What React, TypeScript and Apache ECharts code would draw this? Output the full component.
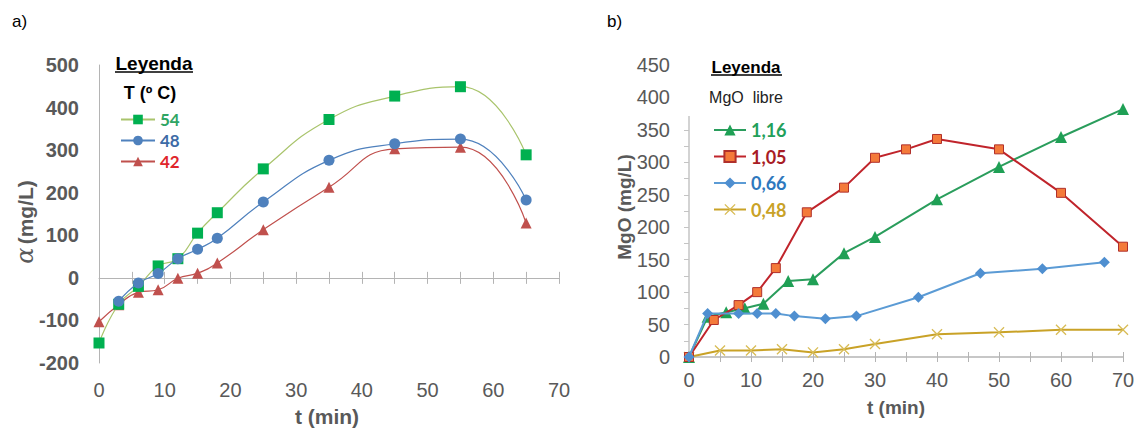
import React, { useEffect, useRef } from "react";
import * as echarts from "echarts";

// ---- Chart a) alpha (mg/L) vs t (min) ----
const tA54 = [0, 3, 6, 9, 12, 15, 18, 25, 35, 45, 55, 65];
const a54 = [-153, -62, -20, 28, 45, 105, 153, 256, 372, 427, 449, 289];
const tA48 = [3, 6, 9, 12, 15, 18, 25, 35, 45, 55, 65];
const a48 = [-55, -12, 10, 45, 67, 93, 178, 276, 315, 326, 183];
const tA42 = [0, 3, 6, 9, 12, 15, 18, 25, 35, 45, 55, 65];
const a42 = [-103, -63, -34, -28, -1, 11, 35, 113, 213, 303, 307, 129];

// ---- Chart b) MgO (mg/L) vs t (min) ----
const tM116 = [0, 3, 6, 9, 12, 16, 20, 25, 30, 40, 50, 60, 70];
const m116 = [0, 62, 69, 75, 82, 117, 120, 160, 185, 243, 293, 339, 382];
const tM105 = [0, 4, 8, 11, 14, 19, 25, 30, 35, 40, 50, 60, 70];
const m105 = [0, 57, 80, 100, 137, 223, 261, 307, 320, 336, 320, 253, 170];
const tM066 = [0, 3, 8, 11, 14, 17, 22, 27, 37, 47, 57, 67];
const m066 = [0, 67, 67, 67, 67, 63, 59, 63, 92, 129, 136, 146];
const tM048 = [0, 5, 10, 15, 20, 25, 30, 40, 50, 60, 70];
const m048 = [0, 10, 10, 12, 7, 12, 20, 35, 38, 42, 42];

const legendA = ["54", "48", "42"];
const legendB = ["1,16", "1,05", "0,66", "0,48"];

const pair = (xs: number[], ys: number[]) => xs.map((x, i) => [x, ys[i]]);

const crossPath =
  "path://M0,1 L1,0 L6,5 L11,0 L12,1 L7,6 L12,11 L11,12 L6,7 L1,12 L0,11 L5,6 Z";

const SANS = "Liberation Sans";
const LABEL = "#595959";
const AX = "#B4B4B4";
const AXR = "#C4C4C4";

// left grid geometry (value range of the y axis used for the zero line offset)
const gridAHeight = 298;
const yMinA = -200;
const yMaxA = 500;

export default function App() {
  const ref = useRef<HTMLDivElement>(null);
  useEffect(() => {
    if (!ref.current) return;
    const chart = echarts.init(ref.current, undefined, { renderer: "svg" });
    const xBase = (grid: number) => ({
      type: "value" as const,
      gridIndex: grid,
      min: 0,
      max: 70,
      interval: 10,
      splitLine: { show: false },
    });
    const zeroOffset = -((0 - yMinA) / (yMaxA - yMinA)) * gridAHeight;
    chart.setOption({
      animation: false,
      backgroundColor: "#fff",
      grid: [
        { left: 99, top: 65, width: 460, height: gridAHeight },
        { left: 689, top: 65, width: 434, height: 292 },
      ],
      xAxis: [
        {
          ...xBase(0),
          position: "bottom",
          axisLine: { show: false, onZero: false },
          axisTick: { show: false },
          axisLabel: { fontFamily: SANS, fontSize: 20, color: LABEL, margin: 17 },
        },
        {
          ...xBase(0),
          position: "bottom",
          axisLine: { show: true, onZero: true, lineStyle: { color: AX, width: 1 } },
          axisTick: { show: true, length: 6, lineStyle: { color: AX, width: 1 } },
          minorTick: { show: true, splitNumber: 2, length: 6, lineStyle: { color: AX, width: 1 } },
          axisLabel: { show: false },
        },
        {
          ...xBase(0),
          position: "bottom",
          offset: zeroOffset,
          axisLine: { show: false, onZero: false },
          axisTick: { show: true, inside: true, length: 6, lineStyle: { color: AX, width: 1 } },
          minorTick: { show: true, splitNumber: 2, length: 6, lineStyle: { color: AX, width: 1 } },
          axisLabel: { show: false },
        },
        {
          ...xBase(1),
          position: "bottom",
          axisLine: { show: true, onZero: false, lineStyle: { color: AX, width: 1.5 } },
          axisTick: { show: true, length: 5, lineStyle: { color: AX, width: 1 } },
          minorTick: { show: true, splitNumber: 2, length: 5, lineStyle: { color: AX, width: 1 } },
          axisLabel: { fontFamily: SANS, fontSize: 20, color: LABEL, margin: 13 },
        },
        {
          ...xBase(1),
          position: "bottom",
          axisLine: { show: false, onZero: false },
          axisTick: { show: true, inside: true, length: 5, lineStyle: { color: AX, width: 1 } },
          minorTick: { show: true, splitNumber: 2, length: 5, lineStyle: { color: AX, width: 1 } },
          axisLabel: { show: false },
        },
      ],
      yAxis: [
        {
          type: "value",
          gridIndex: 0,
          min: yMinA,
          max: yMaxA,
          interval: 100,
          splitLine: { show: false },
          axisLine: { show: true, lineStyle: { color: AX, width: 1 } },
          axisTick: { show: false },
          axisLabel: { fontFamily: SANS, fontSize: 20, fontWeight: "bold", color: LABEL, margin: 20 },
        },
        {
          type: "value",
          gridIndex: 1,
          min: 0,
          max: 450,
          interval: 50,
          splitLine: { show: false },
          axisLine: { show: true, lineStyle: { color: AXR, width: 1.5 } },
          axisTick: { show: true, length: 5, lineStyle: { color: AXR, width: 1 } },
          minorTick: { show: true, splitNumber: 2, length: 5, lineStyle: { color: AXR, width: 1 } },
          axisLabel: { fontFamily: SANS, fontSize: 20, color: LABEL, margin: 19 },
        },
      ],
      legend: [
        {
          orient: "vertical",
          left: 120,
          top: 111,
          padding: 0,
          itemWidth: 34,
          itemHeight: 12,
          itemGap: 4,
          selectedMode: false,
          textStyle: { fontFamily: "Lato", fontWeight: "bold", fontSize: 17, lineHeight: 13 },
          data: [
            { name: legendA[0], textStyle: { color: "#2FA564" } },
            { name: legendA[1], textStyle: { color: "#3D6BA6" } },
            { name: legendA[2], textStyle: { color: "#E0262B" } },
          ],
        },
        {
          orient: "vertical",
          left: 713,
          top: 121,
          padding: 0,
          itemWidth: 32,
          itemHeight: 14,
          itemGap: 8.5,
          selectedMode: false,
          textStyle: { fontFamily: "Lato", fontWeight: "bold", fontSize: 18, lineHeight: 14 },
          data: [
            { name: legendB[0], textStyle: { color: "#22A05A" } },
            { name: legendB[1], textStyle: { color: "#A81C25" } },
            { name: legendB[2], textStyle: { color: "#2E78BE" } },
            { name: legendB[3], textStyle: { color: "#C9A227" } },
          ],
        },
      ],
      series: [
        { name: legendA[0], type: "line", xAxisIndex: 0, yAxisIndex: 0, smooth: 0.5, data: pair(tA54, a54), symbol: "rect", symbolSize: 11, itemStyle: { color: "#00B050" }, lineStyle: { color: "#A9C46C", width: 1.2 }, z: 3 },
        { name: legendA[1], type: "line", xAxisIndex: 0, yAxisIndex: 0, smooth: 0.5, data: pair(tA48, a48), symbol: "circle", symbolSize: 11, itemStyle: { color: "#4F81BD" }, lineStyle: { color: "#4F81BD", width: 1.2 }, z: 4 },
        { name: legendA[2], type: "line", xAxisIndex: 0, yAxisIndex: 0, smooth: 0.5, data: pair(tA42, a42), symbol: "triangle", symbolSize: 11, itemStyle: { color: "#C0504D" }, lineStyle: { color: "#C0504D", width: 1.2 }, z: 2 },
        { name: legendB[0], type: "line", xAxisIndex: 3, yAxisIndex: 1, data: pair(tM116, m116), symbol: "triangle", symbolSize: 12, itemStyle: { color: "#1FA055" }, lineStyle: { color: "#2A9D5C", width: 2 }, z: 3 },
        { name: legendB[1], type: "line", xAxisIndex: 3, yAxisIndex: 1, data: pair(tM105, m105), symbol: "rect", symbolSize: 9, itemStyle: { color: "#F47A3A", borderColor: "#B0302B", borderWidth: 1 }, lineStyle: { color: "#C0242B", width: 2 }, z: 4 },
        { name: legendB[2], type: "line", xAxisIndex: 3, yAxisIndex: 1, data: pair(tM066, m066), symbol: "diamond", symbolSize: 11, itemStyle: { color: "#4F8FD0" }, lineStyle: { color: "#5B9BD5", width: 2 }, z: 5 },
        { name: legendB[3], type: "line", xAxisIndex: 3, yAxisIndex: 1, data: pair(tM048, m048), symbol: crossPath, symbolSize: 11, itemStyle: { color: "#D8BC55" }, lineStyle: { color: "#C9A227", width: 2 }, z: 2 },
      ],
      graphic: [
        { type: "rect", z: 100, shape: { x: 680, y: 58, width: 16, height: 58 }, style: { fill: "#fff" } },
        { type: "text", z: 101, x: 12, y: 21, style: { text: "a)", font: `17px '${SANS}'`, fill: "#000", verticalAlign: "middle" } },
        { type: "text", z: 101, x: 607, y: 21, style: { text: "b)", font: `17px '${SANS}'`, fill: "#000", verticalAlign: "middle" } },
        { type: "text", z: 101, x: 154, y: 63, style: { text: "Leyenda", font: `bold 19px '${SANS}'`, fill: "#000", align: "center", verticalAlign: "middle" } },
        { type: "line", z: 101, shape: { x1: 115, y1: 72, x2: 193, y2: 72 }, style: { stroke: "#000", lineWidth: 1.5 } },
        { type: "text", z: 101, x: 150, y: 93, style: { text: "T (º C)", font: `bold 18px '${SANS}'`, fill: "#000", align: "center", verticalAlign: "middle" } },
        { type: "text", z: 101, x: 746, y: 67, style: { text: "Leyenda", font: `bold 17px '${SANS}'`, fill: "#000", align: "center", verticalAlign: "middle" } },
        { type: "line", z: 101, shape: { x1: 711, y1: 75, x2: 782, y2: 75 }, style: { stroke: "#000", lineWidth: 1.5 } },
        { type: "text", z: 101, x: 746, y: 97, style: { text: "MgO  libre", font: `16px '${SANS}'`, fill: "#222", align: "center", verticalAlign: "middle" } },
        {
          type: "text",
          z: 101,
          x: 25,
          y: 222,
          rotation: Math.PI / 2,
          style: {
            text: "{g|α} {t|(mg/L)}",
            fill: LABEL,
            align: "center",
            verticalAlign: "middle",
            rich: {
              g: { font: "italic 24px 'DejaVu Serif'", fill: LABEL },
              t: { font: `bold 21px '${SANS}'`, fill: LABEL },
            },
          },
        },
        { type: "text", z: 101, x: 327, y: 416, style: { text: "t (min)", font: `bold 21px '${SANS}'`, fill: LABEL, align: "center", verticalAlign: "middle" } },
        { type: "text", z: 101, x: 624, y: 207, rotation: Math.PI / 2, style: { text: "MgO (mg/L)", font: `bold 19px '${SANS}'`, fill: LABEL, align: "center", verticalAlign: "middle" } },
        { type: "text", z: 101, x: 896, y: 407, style: { text: "t (min)", font: `bold 19px '${SANS}'`, fill: LABEL, align: "center", verticalAlign: "middle" } },
      ],
    });
    return () => chart.dispose();
  }, []);
  return (
    <div
      ref={ref}
      style={{ position: "fixed", left: 0, top: 0, width: 1138, height: 428, background: "#fff" }}
    />
  );
}
